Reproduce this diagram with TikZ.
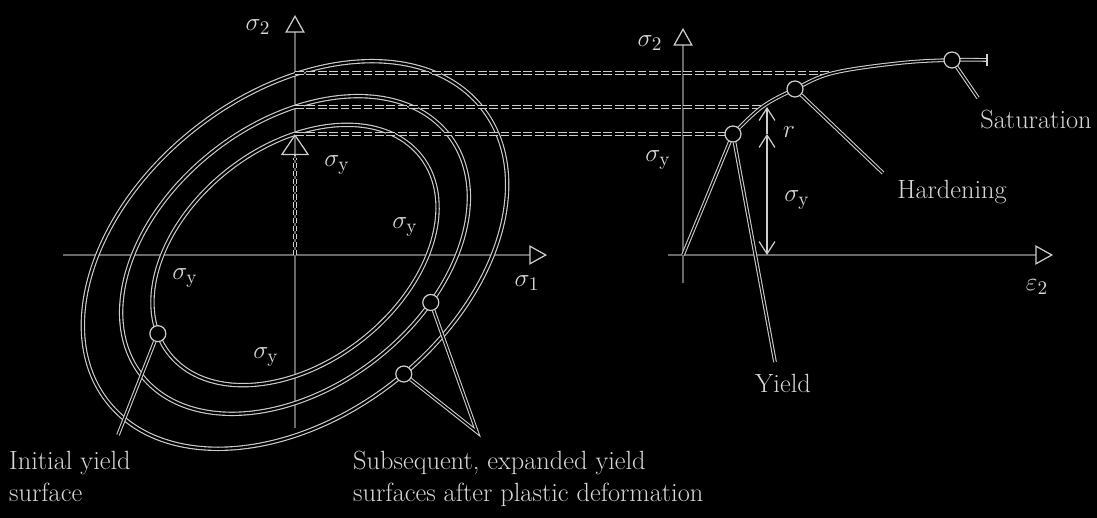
\documentclass[tikz,border=0pt]{standalone}
\usepackage{amsmath,amssymb}
\usepackage{tikz}
\usetikzlibrary{arrows.meta}
\definecolor{colLine}{RGB}{205,205,205}
\definecolor{colAxis}{RGB}{105,105,105}
\definecolor{colText}{RGB}{215,215,215}

\begin{document}
\begin{tikzpicture}[x=0.2mm, y=0.2mm,
  every node/.style={font=\fontsize{15}{18}\selectfont, text=colText},
  surf/.style={draw=colLine, double=black, double distance=1.2pt, line width=0.65pt},
  proj/.style={draw=colLine, double=black, double distance=0.9pt, line width=0.6pt, dash pattern=on 5pt off 1.5pt},
  lead/.style={draw=colLine, double=black, double distance=0.9pt, line width=0.6pt},
  axisline/.style={colAxis, line width=1.1pt, -{Triangle[open, length=10pt, width=11pt, color=colLine, line width=0.7pt]}},
  dimline/.style={colLine, line width=0.7pt},
  marker/.style={circle, draw=colLine, fill=black, line width=0.7pt, inner sep=0pt, minimum size=3.2mm}]
      \path[use as bounding box, fill=black] (0,0) rectangle (1097,518);
      % ---- stress space ----
      \coordinate (O1) at (295,263);
      \draw[axisline] (63,263) -- (547,263);
      \draw[axisline] (295,90) -- (295,503);
      \node (lblSigTwoL) at (258,491) {$\sigma_2$};
      \node (lblSigOne) at (527,235) {$\sigma_1$};
      % yield surfaces
      \begin{scope}[shift={(O1)}, rotate=38]
        \draw[surf] (0,0) ellipse [x radius=160, y radius=108];
        \draw[surf] (0,0) ellipse [x radius=195, y radius=132];
        \draw[surf] (0,0) ellipse [x radius=238, y radius=161];
        \node[marker] (mkInit) at (168:160 and 108) {};
        \node[marker] (mkMid) at (293.5:195 and 132) {};
        \node[marker] (mkOut) at (273:238 and 161) {};
      \end{scope}
      % sigma_y on the sigma_2 axis
      \coordinate (cIn) at (295,384);
      \coordinate (cMid) at (295,411);
      \coordinate (cOut) at (295,445);
      \draw[proj, dash pattern=on 3pt off 1.5pt] (O1) -- (295,360);
      \draw[dimline, -{Triangle[open, length=12pt, width=16pt, line width=0.7pt]}] (295,362) -- (cIn);
      \node (lblSyA) at (337,353) {$\sigma_{\mathrm{y}}$};
      \node (lblSyB) at (405,291) {$\sigma_{\mathrm{y}}$};
      \node (lblSyC) at (185,240) {$\sigma_{\mathrm{y}}$};
      \node (lblSyD) at (266,161) {$\sigma_{\mathrm{y}}$};
      % labels of the surfaces
      \coordinate (initTip) at (118,83);
      \coordinate (subsTip) at (477,86);
      \draw[lead] (mkInit) -- (initTip);
      \draw[lead] (mkMid) -- (subsTip) -- (mkOut);
      \node[anchor=north west, align=left] (lblInit) at (3,73) {Initial yield\\surface};
      \node[anchor=north west, align=left] (lblSubs) at (347,73) {Subsequent, expanded yield\\surfaces after plastic deformation};
      % ---- stress-strain curve ----
      \coordinate (O2) at (683,263);
      \draw[axisline] (668,263) -- (1053,263);
      \draw[axisline] (683,235) -- (683,490);
      \node (lblSigTwoR) at (650,475) {$\sigma_2$};
      \node (lblEps) at (1037,231) {$\varepsilon_2$};
      \coordinate (Y) at (733,384);
      \coordinate (H) at (795,429);
      \coordinate (S) at (952,458);
      \coordinate (rTop) at (767,411);
      \coordinate (rBot) at (767,384);
      \coordinate (sBot) at (767,263);
      % projections
      \draw[proj] (cOut) -- (833,445);
      \draw[proj] (cMid) -- (762,411);
      \draw[proj] (cIn) -- (Y);
      % curve
      \draw[lead] (O2) -- (Y);
      \draw[lead] plot[smooth, tension=0.6] coordinates {(733,384) (762,411) (795,429) (833,445) (900,455) (952,458) (987,458)};
      \draw[colLine, line width=0.7pt] (987,452) -- (987,464);
      % r and sigma_y
      \draw[dimline, {Straight Barb[length=7pt, width=9pt]}-{Straight Barb[length=7pt, width=9pt]}] (sBot) -- (rBot);
      \draw[dimline, -{Straight Barb[length=7pt, width=9pt]}] (rBot) -- (rTop);
      \node (lblSyE) at (658,358) {$\sigma_{\mathrm{y}}$};
      \node (lblR) at (789,386) {$r$};
      \node (lblSyF) at (797,318) {$\sigma_{\mathrm{y}}$};
      % markers and leaders
      \coordinate (yieldTip) at (775,156);
      \coordinate (hardTip) at (883,345);
      \coordinate (satTip) at (978,420);
      \node[marker] (yieldpt) at (Y) {};
      \node[marker] (hardpt) at (H) {};
      \node[marker] (satpt) at (S) {};
      \draw[lead] (yieldpt) -- (yieldTip);
      \draw[lead] (hardpt) -- (hardTip);
      \draw[lead] (satpt) -- (satTip);
      \node (lblYield) at (783,135) {Yield};
      \node (lblHard) at (952,326) {Hardening};
      \node (lblSat) at (1036,398) {Saturation};
    \end{tikzpicture}
\end{document}
